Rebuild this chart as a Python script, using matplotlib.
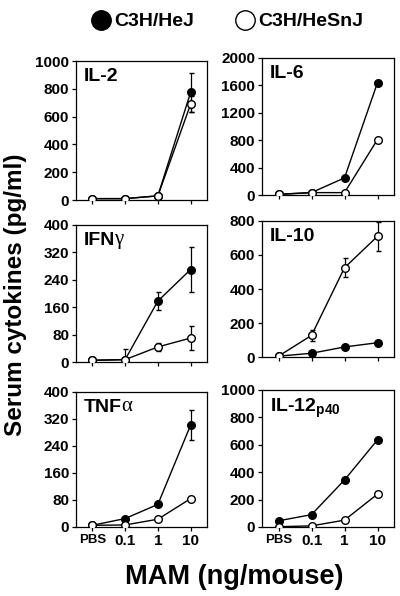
import matplotlib
matplotlib.use('Agg')
import matplotlib.pyplot as plt
from matplotlib.lines import Line2D

plt.rcParams['font.family'] = ['Liberation Sans', 'DejaVu Sans']
plt.rcParams['font.weight'] = 'bold'
plt.rcParams['mathtext.fontset'] = 'custom'
plt.rcParams['mathtext.bf'] = 'Liberation Sans:bold'

doses = ['PBS', '0.1', '1', '10']

# values (pg/ml)
il2_hej = [10, 10, 30, 775]
il2_hej_err = [0, 0, 0, 140]
il2_hesnj = [10, 10, 30, 690]
il2_hesnj_err = [0, 0, 0, 55]

il6_hej = [10, 35, 250, 1640]
il6_hej_err = [0, 0, 0, 0]
il6_hesnj = [10, 35, 35, 810]
il6_hesnj_err = [0, 0, 0, 0]

ifng_hej = [5, 7, 178, 270]
ifng_hej_err = [0, 0, 27, 65]
ifng_hesnj = [5, 7, 44, 70]
ifng_hesnj_err = [0, 30, 11, 35]

il10_hej = [5, 22, 59, 84]
il10_hej_err = [0, 0, 0, 0]
il10_hesnj = [5, 127, 525, 710]
il10_hesnj_err = [0, 30, 57, 87]

tnfa_hej = [5, 25, 67, 302]
tnfa_hej_err = [0, 0, 0, 45]
tnfa_hesnj = [5, 6, 23, 84]
tnfa_hesnj_err = [0, 0, 0, 0]

il12_hej = [45, 90, 343, 636]
il12_hej_err = [0, 0, 0, 0]
il12_hesnj = [2, 8, 50, 240]
il12_hesnj_err = [0, 0, 0, 0]

panels = [
    # title, greek suffix, hej, hej_err, hesnj, hesnj_err, ymax, ystep, [left, bottom, w, h]
    ('IL-2', '', il2_hej, il2_hej_err, il2_hesnj, il2_hesnj_err, 1000, 200, [0.19, 0.6644, 0.3275, 0.2332]),
    ('IL-6', '', il6_hej, il6_hej_err, il6_hesnj, il6_hesnj_err, 2000, 400, [0.655, 0.6728, 0.33, 0.2299]),
    ('IFN', 'γ', ifng_hej, ifng_hej_err, ifng_hesnj, ifng_hesnj_err, 400, 80, [0.19, 0.3926, 0.3275, 0.2299]),
    ('IL-10', '', il10_hej, il10_hej_err, il10_hesnj, il10_hesnj_err, 800, 200, [0.655, 0.401, 0.33, 0.2282]),
    ('TNF', 'α', tnfa_hej, tnfa_hej_err, tnfa_hesnj, tnfa_hesnj_err, 400, 80, [0.19, 0.1158, 0.3275, 0.2265]),
    (r'IL-12$_\mathbf{p40}$', '', il12_hej, il12_hej_err, il12_hesnj, il12_hesnj_err, 1000, 200, [0.655, 0.1158, 0.33, 0.2299]),
]

fig = plt.figure(figsize=(4, 5.96), dpi=100)
x = range(len(doses))

for i, (name, greek, hej, hej_err, hesnj, hesnj_err, ymax, ystep, pos) in enumerate(panels):
    ax = fig.add_axes(pos)
    ax.errorbar(x, hej, yerr=hej_err, color='black', lw=1, marker='o', ms=5.5,
                mfc='black', mec='black', mew=1, capsize=1.8, elinewidth=0.9, zorder=2)
    ax.errorbar(x, hesnj, yerr=hesnj_err, color='black', lw=1, marker='o', ms=5.5,
                mfc='white', mec='black', mew=1, capsize=1.8, elinewidth=0.9, zorder=3)
    ax.set_xlim(-0.5, 3.5)
    ax.set_ylim(0, ymax)
    ax.set_yticks(range(0, ymax + 1, ystep))
    ax.set_xticks(list(x))
    ax.tick_params(direction='out', length=3, width=0.9, labelsize=11, pad=2)
    for s in ax.spines.values():
        s.set_linewidth(0.9)
    if i >= 4:
        ax.set_xticklabels(doses)
        ax.get_xticklabels()[0].set_fontsize(9.5)
    else:
        ax.set_xticklabels([])
    t = ax.text(0.06, 0.95, name, transform=ax.transAxes, ha='left', va='top', fontsize=14)
    if greek:
        # greek letter in a thin serif face, as in the original
        ax.annotate(greek, xy=(1, 0), xycoords=t, xytext=(-0.5, 0), textcoords='offset points',
                    ha='left', va='bottom', fontsize=15, family='Liberation Serif', weight='normal')

h1 = Line2D([], [], ls='none', marker='o', ms=14, mfc='black', mec='black')
h2 = Line2D([], [], ls='none', marker='o', ms=14, mfc='white', mec='black', mew=1)
fig.legend([h1, h2], ['C3H/HeJ', 'C3H/HeSnJ'], ncol=2, loc='upper center',
           bbox_to_anchor=(0.57, 1.008), frameon=False, handlelength=0.8,
           handletextpad=0.3, columnspacing=2.2, prop={'size': 14, 'weight': 'bold'})

fig.text(0.04, 0.505, 'Serum cytokines (pg/ml)', rotation=90, ha='center', va='center', fontsize=17.5)
fig.text(0.585, 0.032, 'MAM (ng/mouse)', ha='center', va='center', fontsize=19.5)

fig.savefig('out.png', dpi=100)
